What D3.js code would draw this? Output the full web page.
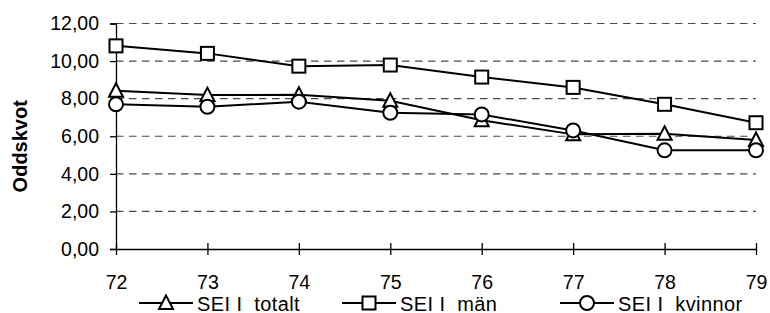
<!DOCTYPE html>
<html>
<head>
<meta charset="utf-8">
<script src="https://cdn.jsdelivr.net/npm/d3@7"></script>
<style>
  body { margin: 0; background: #fff; }
  svg { display: block; font-family: Arial, "Liberation Sans", sans-serif; }
</style>
</head>
<body>
<svg id="chart" width="770" height="313"></svg>
<script>
var years = ["72", "73", "74", "75", "76", "77", "78", "79"];
var totalt = [8.42, 8.19, 8.21, 7.89, 6.85, 6.10, 6.13, 5.80];
var man = [10.81, 10.41, 9.73, 9.79, 9.15, 8.60, 7.70, 6.72];
var kvinnor = [7.70, 7.57, 7.84, 7.25, 7.16, 6.31, 5.25, 5.25];
var yTicks = [0, 2, 4, 6, 8, 10, 12];

var series = [
  { name: "SEI I  totalt", values: totalt, shape: "triangle", lx: 166 },
  { name: "SEI I  män", values: man, shape: "square", lx: 369 },
  { name: "SEI I  kvinnor", values: kvinnor, shape: "circle", lx: 587 }
];

var svg = d3.select("#chart"),
    margin = {top: 23.5, right: 14, bottom: 64, left: 116},
    width = +svg.attr("width") - margin.left - margin.right,
    height = +svg.attr("height") - margin.top - margin.bottom;

var x = d3.scalePoint().domain(years).range([0, width]),
    y = d3.scaleLinear().domain([0, 12]).range([height, 0]);

var g = svg.append("g")
    .attr("transform", "translate(" + margin.left + "," + margin.top + ")");

var fmt = function(d) { return d3.format(".2f")(d).replace(".", ","); };

// dashed grid
g.append("g")
  .selectAll("line")
  .data(yTicks.filter(function(d) { return d > 0; }))
  .enter().append("line")
    .attr("x1", 0).attr("x2", width)
    .attr("y1", function(d) { return y(d); })
    .attr("y2", function(d) { return y(d); })
    .attr("stroke", "#4a4a4a")
    .attr("stroke-width", 1.1)
    .attr("stroke-dasharray", "7.5,5.5");

// y axis
var yAxis = g.append("g")
    .call(d3.axisLeft(y).tickValues(yTicks).tickFormat(fmt).tickSize(6).tickPadding(11));
yAxis.select(".domain").attr("stroke", "#000").attr("stroke-width", 1.3);
yAxis.selectAll(".tick line").attr("stroke", "#000").attr("stroke-width", 1.3);
yAxis.selectAll("text").style("font-size", "19.5px").attr("fill", "#000");

// x axis
var xAxis = g.append("g")
    .attr("transform", "translate(0," + height + ")")
    .call(d3.axisBottom(x).tickSizeInner(6).tickSizeOuter(0).tickPadding(20));
xAxis.select(".domain").attr("stroke", "#000").attr("stroke-width", 1.3);
xAxis.selectAll(".tick line").attr("y1", -6).attr("y2", 6).attr("stroke", "#000").attr("stroke-width", 1.3);
xAxis.selectAll("text").style("font-size", "19.5px").attr("fill", "#000");

svg.append("text")
    .attr("transform", "translate(27," + (margin.top + height / 2 + 10) + ") rotate(-90)")
    .attr("text-anchor", "middle")
    .style("font-size", "20px")
    .style("font-weight", "bold")
    .text("Oddskvot");

var line = d3.line()
    .x(function(d, i) { return x(years[i]); })
    .y(function(d) { return y(d); });

function marker(sel, shape) {
  if (shape === "square") {
    sel.append("rect").attr("x", -6.5).attr("y", -6.5).attr("width", 13).attr("height", 13);
  } else if (shape === "circle") {
    sel.append("circle").attr("r", 7);
  } else {
    sel.append("path").attr("d", "M0,-7.5L7,6L-7,6Z");
  }
  sel.selectAll("rect,circle,path")
    .attr("fill", "#fff").attr("stroke", "#000").attr("stroke-width", 2);
}

series.forEach(function(s) {
  g.append("path")
    .datum(s.values)
    .attr("fill", "none")
    .attr("stroke", "#000")
    .attr("stroke-width", 2)
    .attr("d", line);
});

series.forEach(function(s) {
  g.selectAll(null)
    .data(s.values)
    .enter().append("g")
      .attr("transform", function(d, i) { return "translate(" + x(years[i]) + "," + y(d) + ")"; })
      .each(function() { marker(d3.select(this), s.shape); });
});

// legend
var legY = 303;
series.forEach(function(s) {
  var lg = svg.append("g").attr("transform", "translate(" + s.lx + "," + legY + ")");
  lg.append("line").attr("x1", -27).attr("x2", 27).attr("stroke", "#000").attr("stroke-width", 2);
  marker(lg.append("g"), s.shape);
  lg.append("text")
    .attr("x", 31)
    .attr("y", 7.5)
    .style("font-size", "20px")
    .style("letter-spacing", "0.4px")
    .style("white-space", "pre")
    .text(s.name);
});
</script>
</body>
</html>
